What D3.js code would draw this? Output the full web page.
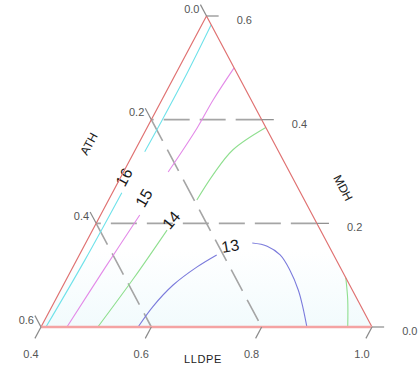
<!DOCTYPE html>
<html>
<head>
<meta charset="utf-8">
<script src="https://cdn.jsdelivr.net/npm/d3@7"></script>
<style>
body { margin: 0; background: #fff; }
svg { display: block; font-family: "Liberation Sans", Arial, sans-serif; }
</style>
</head>
<body>
<div id="chart"></div>
<script>
// components: ATH (left side), MDH (right side), LLDPE = 1 - ATH - MDH (bottom)
const athTicks = [0.0, 0.2, 0.4, 0.6];
const mdhTicks = [0.0, 0.2, 0.4, 0.6];
const lldpeTicks = [0.4, 0.6, 0.8, 1.0];
const athGrid = [0.2, 0.4];
const mdhGrid = [0.2, 0.4];

// contour pieces, points are [ATH, MDH]
const c16a = [[0.000, 0.583], [0.090, 0.490], [0.181, 0.399], [0.243, 0.338]];
const c16b = [[0.324, 0.259], [0.456, 0.129], [0.591, 0.000]];
const c15a = [[0.000, 0.500], [0.069, 0.438], [0.125, 0.384], [0.220, 0.299]];
const c15b = [[0.313, 0.216], [0.427, 0.114], [0.553, 0.000]];
const c14a = [[0.000, 0.385], [0.081, 0.342], [0.142, 0.293], [0.195, 0.245]];
const c14b = [[0.278, 0.187], [0.385, 0.094], [0.497, 0.000]];
const c13a = [[0.212, 0.139], [0.259, 0.116], [0.320, 0.081], [0.378, 0.039], [0.424, 0.000]];
const c13b = [[0.136, 0.162], [0.112, 0.156], [0.097, 0.139], [0.094, 0.110], [0.098, 0.071], [0.106, 0.039], [0.118, 0.000]];
const c14c = [[0.000, 0.095], [0.018, 0.052], [0.044, 0.000]];

const pieces = [c16a, c16b, c15a, c15b, c14a, c14b, c13a, c13b, c14c];
const pieceLevel = [16, 16, 15, 15, 14, 14, 13, 13, 14];

const labelLevels = [16, 15, 14, 13];
const labelPos = [[0.305, 0.289], [0.289, 0.249], [0.261, 0.206], [0.179, 0.156]];
const labelAngle = [-62, -60, -50, -10];

const width = 419;
const height = 369;

const svg = d3.select("#chart")
    .append("svg")
    .attr("width", width)
    .attr("height", height);

// horizontal position as fraction of base, vertical by MDH
const xScale = d3.scaleLinear().domain([0, 1]).range([41, 372]);
const yScale = d3.scaleLinear().domain([0, 0.6]).range([327, 16]);

function toXY(ath, mdh) {
    const lldpe = 1 - ath - mdh;
    const wT = mdh / 0.6;
    const wBR = (lldpe - 0.4) / 0.6;
    return [xScale(wBR + wT / 2), yScale(mdh)];
}

const colorScale = d3.scaleOrdinal()
    .domain([13, 14, 15, 16])
    .range(["#7b7bdc", "#8fdf8f", "#e38ae8", "#6fe2ea"]);

const top_ = toXY(0, 0.6), bl = toXY(0.6, 0), br = toXY(0, 0);

/* faint background tint near the base */
const defs = svg.append("defs");
const grad = defs.append("linearGradient")
    .attr("id", "tint")
    .attr("x1", 0).attr("y1", 0).attr("x2", 0).attr("y2", 1);
grad.append("stop").attr("offset", "0.75").attr("stop-color", "#ffffff");
grad.append("stop").attr("offset", "1").attr("stop-color", "#f2fbfd");

svg.append("path")
    .attr("d", d3.line()([top_, bl, br]) + "Z")
    .attr("fill", "url(#tint)");

/* dashed grid */
const ext = 0.022;

mdhGrid.forEach(function(m) {
    const a = toXY(0, m), b = toXY(0.6 - m, m);
    svg.append("line")
        .attr("x1", a[0]).attr("y1", a[1])
        .attr("x2", b[0]).attr("y2", b[1])
        .attr("stroke", "#a5a5a5")
        .attr("stroke-width", 1.6)
        .attr("stroke-dasharray", "26,10");
});

athGrid.forEach(function(v) {
    const a = toXY(v, 0.6 - v), b = toXY(v, 0);
    svg.append("line")
        .attr("x1", a[0]).attr("y1", a[1])
        .attr("x2", b[0]).attr("y2", b[1])
        .attr("stroke", "#a5a5a5")
        .attr("stroke-width", 1.6)
        .attr("stroke-dasharray", "24,10");
});

/* contours */
const line = d3.line()
    .x(function(d) { return toXY(d[0], d[1])[0]; })
    .y(function(d) { return toXY(d[0], d[1])[1]; })
    .curve(d3.curveCatmullRom);

pieces.forEach(function(p, i) {
    svg.append("path")
        .attr("d", line(p))
        .attr("fill", "none")
        .attr("stroke", colorScale(pieceLevel[i]))
        .attr("stroke-width", 1.1);
});

labelLevels.forEach(function(lev, i) {
    const p = toXY(labelPos[i][0], labelPos[i][1]);
    svg.append("text")
        .attr("transform", `translate(${p[0]},${p[1]}) rotate(${labelAngle[i]})`)
        .attr("text-anchor", "middle")
        .attr("dominant-baseline", "central")
        .attr("font-size", 16)
        .attr("fill", "#1a1a1a")
        .text(lev);
});

/* triangle edges */
svg.append("path")
    .attr("d", d3.line()([bl, top_, br]))
    .attr("fill", "none")
    .attr("stroke", "#e07272")
    .attr("stroke-width", 1.2);

svg.append("line")
    .attr("x1", bl[0]).attr("y1", bl[1])
    .attr("x2", br[0]).attr("y2", br[1])
    .attr("stroke", "#f4a3a3")
    .attr("stroke-width", 2.4);

/* ticks + tick labels */
athTicks.forEach(function(v) {
    const a = toXY(v, 0.6 - v), b = toXY(v, 0.6 - v + ext);
    svg.append("line")
        .attr("x1", a[0]).attr("y1", a[1]).attr("x2", b[0]).attr("y2", b[1])
        .attr("stroke", "#8a8a8a").attr("stroke-width", 1.2);
    svg.append("text")
        .attr("x", b[0] - 1).attr("y", b[1] + 4)
        .attr("text-anchor", "end")
        .attr("dominant-baseline", "central")
        .attr("font-size", 11)
        .attr("fill", "#555")
        .text(d3.format(".1f")(v));
});

mdhTicks.forEach(function(v) {
    const a = toXY(0, v), b = toXY(-ext, v);
    svg.append("line")
        .attr("x1", a[0]).attr("y1", a[1]).attr("x2", b[0]).attr("y2", b[1])
        .attr("stroke", "#8a8a8a").attr("stroke-width", 1.2);
    svg.append("text")
        .attr("x", b[0] + 18).attr("y", b[1] + 4)
        .attr("dominant-baseline", "central")
        .attr("font-size", 11)
        .attr("fill", "#555")
        .text(d3.format(".1f")(v));
});

lldpeTicks.forEach(function(v) {
    const a = toXY(1 - v, 0), b = toXY(1 - v + ext, -ext);
    svg.append("line")
        .attr("x1", a[0]).attr("y1", a[1]).attr("x2", b[0]).attr("y2", b[1])
        .attr("stroke", "#8a8a8a").attr("stroke-width", 1.2);
    svg.append("text")
        .attr("x", b[0] - 4).attr("y", b[1] + 16)
        .attr("text-anchor", "middle")
        .attr("dominant-baseline", "central")
        .attr("font-size", 11)
        .attr("fill", "#555")
        .text(d3.format(".1f")(v));
});

/* axis titles */
svg.append("text")
    .attr("transform", "translate(89,144) rotate(-62)")
    .attr("text-anchor", "middle")
    .attr("dominant-baseline", "central")
    .attr("font-size", 12)
    .attr("fill", "#222")
    .text("ATH");

svg.append("text")
    .attr("transform", "translate(343,188) rotate(62)")
    .attr("text-anchor", "middle")
    .attr("dominant-baseline", "central")
    .attr("font-size", 12)
    .attr("fill", "#222")
    .text("MDH");

svg.append("text")
    .attr("x", 203).attr("y", 359)
    .attr("text-anchor", "middle")
    .attr("dominant-baseline", "central")
    .attr("font-size", 11)
    .attr("letter-spacing", 0.6)
    .attr("fill", "#222")
    .text("LLDPE");
</script>
</body>
</html>
